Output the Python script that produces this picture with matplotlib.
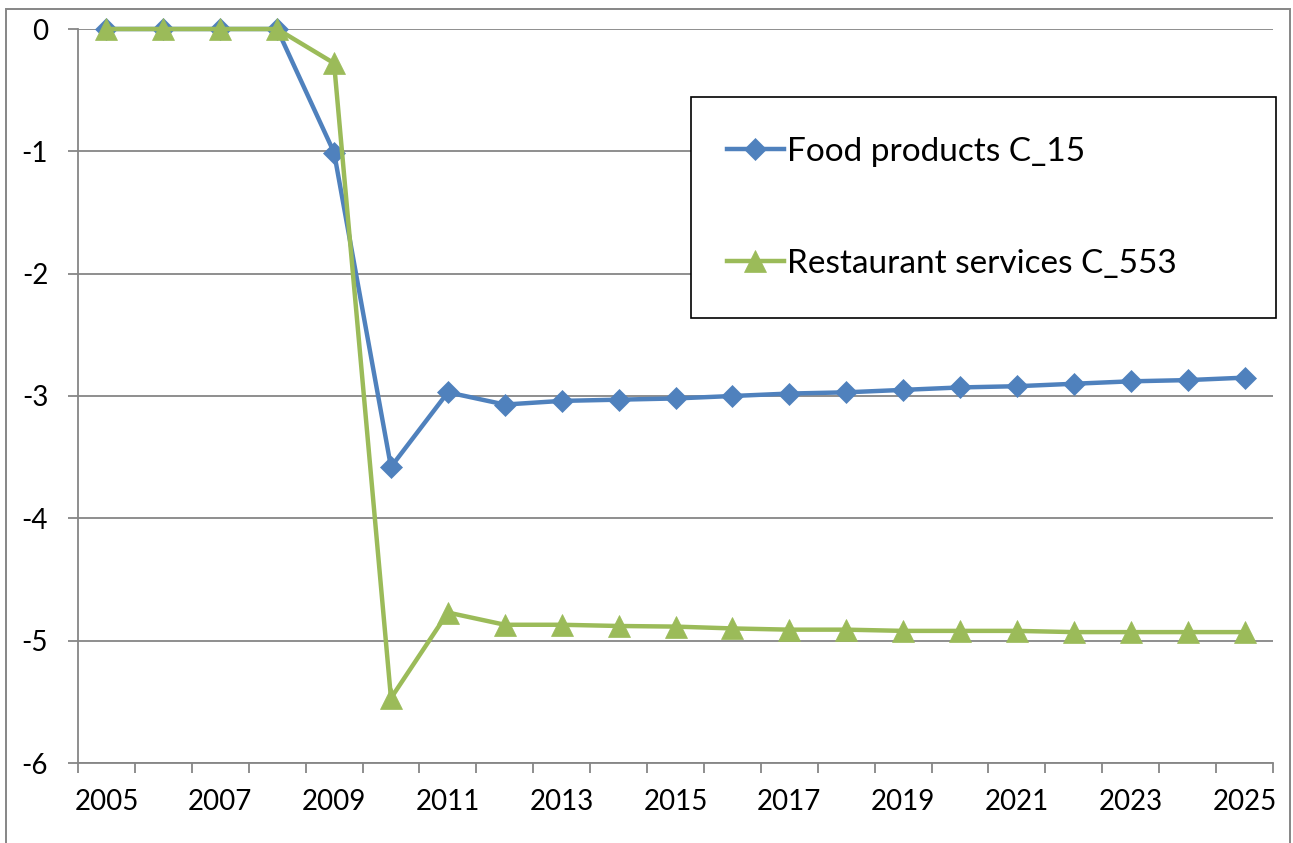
import matplotlib
matplotlib.use("Agg")
import matplotlib.pyplot as plt
from matplotlib.patches import Rectangle
from matplotlib.ticker import FixedLocator, NullFormatter, FixedFormatter

# Data
years = list(range(2005, 2026))
food_products = [0, 0, 0, 0, -1.01, -3.58, -2.97, -3.07, -3.04, -3.03, -3.02,
                 -3.00, -2.98, -2.97, -2.95, -2.93, -2.92, -2.90, -2.88, -2.87, -2.85]
restaurant_services = [0, 0, 0, 0, -0.28, -5.47, -4.77, -4.87, -4.87, -4.88, -4.885,
                       -4.90, -4.91, -4.91, -4.92, -4.92, -4.92, -4.93, -4.93, -4.93, -4.93]
series_labels = ["Food products C_15", "Restaurant services C_553"]
y_ticks = [0, -1, -2, -3, -4, -5, -6]

BLUE = "#4F81BD"
GREEN = "#9BBB59"
GRID = "#868686"

plt.rcParams["font.family"] = ["Lato", "DejaVu Sans"]

W, H = 1293, 843
fig = plt.figure(figsize=(W / 100, H / 100), dpi=100)
fig.patch.set_facecolor("white")

ax = fig.add_axes([78 / W, (H - 763) / H, (1273 - 78) / W, (763 - 29) / H])

x = list(range(len(years)))
ax.plot(x, food_products, color=BLUE, lw=3.2, marker="D", ms=11.5,
        mfc=BLUE, mec=BLUE, mew=0.5, label=series_labels[0], zorder=3,
        clip_on=False, solid_joinstyle="round")
ax.plot(x, restaurant_services, color=GREEN, lw=3.2, marker="^", ms=16,
        mfc=GREEN, mec=GREEN, mew=0.5, label=series_labels[1], zorder=4,
        clip_on=False, solid_joinstyle="round")

ax.set_xlim(-0.5, len(years) - 0.5)
ax.set_ylim(-6, 0)

# Category axis: tick marks between categories, labels on every other year
ax.xaxis.set_major_locator(FixedLocator([i - 0.5 for i in range(len(years) + 1)]))
ax.xaxis.set_major_formatter(NullFormatter())
label_pos = x[::2]
ax.xaxis.set_minor_locator(FixedLocator(label_pos))
ax.xaxis.set_minor_formatter(FixedFormatter([str(years[i]) for i in label_pos]))
ax.tick_params(axis="x", which="major", direction="out", length=7.5, width=1.3,
               color=GRID)
ax.tick_params(axis="x", which="minor", length=0, pad=19, labelsize=20)

ax.set_yticks(y_ticks)
ax.set_yticklabels([str(v) for v in y_ticks])
ax.tick_params(axis="y", direction="out", length=7.5, width=1.3, color=GRID,
               pad=14, labelsize=20)

ax.grid(axis="y", color=GRID, lw=1.3)
ax.set_axisbelow(True)
for side in ("top", "right"):
    ax.spines[side].set_visible(False)
for side in ("left", "bottom"):
    ax.spines[side].set_color(GRID)
    ax.spines[side].set_linewidth(1.3)

# Legend box
fig.patches.append(Rectangle((691 / W, 1 - 318 / H), (1276 - 691) / W, (318 - 97) / H,
                             transform=fig.transFigure, fill=True, facecolor="white",
                             edgecolor="black", lw=1.2, zorder=5))
leg = fig.legend(loc="upper left", bbox_to_anchor=(727 / W, 1 - 137 / H),
                 frameon=False, fontsize=24, handlelength=1.7, handletextpad=0.1,
                 labelspacing=2.45, borderpad=0, borderaxespad=0)
leg.set_zorder(6)

# Outer chart border
fig.patches.append(Rectangle((6 / W, -0.05), (1290 - 6) / W, 1 - 9 / H + 0.05,
                             transform=fig.transFigure, fill=False,
                             edgecolor=GRID, lw=1.4, zorder=0))

fig.savefig("out.png", dpi=100)
